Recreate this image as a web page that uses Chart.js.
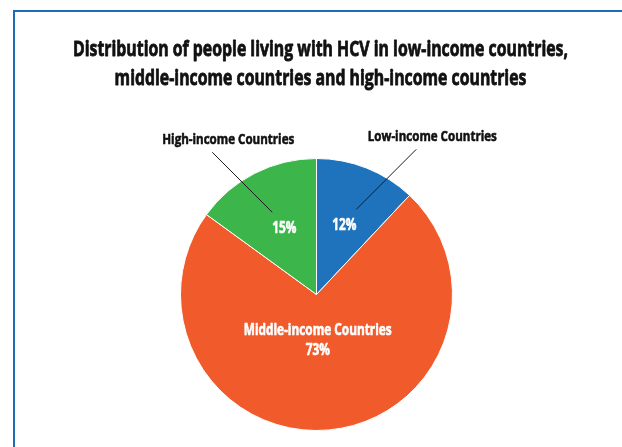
<!DOCTYPE html>
<html>
<head>
<meta charset="utf-8">
<script src="https://cdn.jsdelivr.net/npm/chart.js@4/dist/chart.umd.min.js"></script>
<style>
  html, body { margin: 0; padding: 0; background: #ffffff; }
  #wrap { position: relative; width: 622px; height: 447px; overflow: hidden; }
  #frame {
    position: absolute; left: 13px; top: 10px; width: 700px; height: 600px;
    border-left: 2px solid #1c6db6; border-top: 2px solid #1c6db6; box-sizing: border-box;
  }
  #chart { position: absolute; left: 0; top: 0; }
</style>
</head>
<body>
<div id="wrap">
  <div id="frame"></div>
  <canvas id="chart" width="622" height="447"></canvas>
</div>
<script>
// Chart content
const titleLines = [
  'Distribution of people living with HCV in low-income countries,',
  'middle-income countries and high-income countries'
];
const categories = ['Low-income Countries', 'Middle-income Countries', 'High-income Countries'];
const shares = [12, 73, 15];
const sliceColors = ['#1f73bc', '#f15b2c', '#3cb54b'];

const FONT_FAMILY = "'Open Sans', 'DejaVu Sans Condensed', sans-serif";

// Draws centred text squeezed horizontally by sx, with a thin outline of the
// same colour to give the heavy condensed look.
function drawCondensed(ctx, text, x, baseline, font, color, sx, weight) {
  ctx.save();
  ctx.font = font;
  ctx.fillStyle = color;
  ctx.strokeStyle = color;
  ctx.lineWidth = weight;
  ctx.lineJoin = 'round';
  ctx.textAlign = 'center';
  ctx.textBaseline = 'alphabetic';
  ctx.translate(x, baseline);
  ctx.scale(sx, 1);
  ctx.fillText(text, 0, 0);
  ctx.strokeText(text, 0, 0);
  ctx.restore();
}

function squeezeFor(ctx, text, font, targetWidth) {
  ctx.save();
  ctx.font = font;
  const w = ctx.measureText(text).width;
  ctx.restore();
  return targetWidth / w;
}

// Two-line heading above the pie
const headingPlugin = {
  id: 'heading',
  afterDraw(chart) {
    const ctx = chart.ctx;
    const font = 'bold 21px ' + FONT_FAMILY;
    const sx = squeezeFor(ctx, titleLines[0], font, 495);
    const baselines = [56, 85];
    titleLines.forEach((line, i) => drawCondensed(ctx, line, 320.5, baselines[i], font, '#111111', sx, 0.8));
  }
};

// Slice labels: small slices get a percentage inside and a named callout outside,
// the large slice carries its name and percentage inside.
const sliceLabelPlugin = {
  id: 'sliceLabels',
  afterDatasetsDraw(chart) {
    const ctx = chart.ctx;
    const meta = chart.getDatasetMeta(0);
    const innerFont = 'bold 16px ' + FONT_FAMILY;
    const outerFont = 'bold 15px ' + FONT_FAMILY;
    const innerSx = squeezeFor(ctx, categories[1], innerFont, 148);
    const outerSx = squeezeFor(ctx, 'High-income Countries', outerFont, 132);

    meta.data.forEach((arc, i) => {
      const { x, y, startAngle, endAngle, outerRadius } = arc.getProps(['x', 'y', 'startAngle', 'endAngle', 'outerRadius'], true);
      const mid = (startAngle + endAngle) / 2;
      const pct = shares[i] + '%';

      if (shares[i] >= 50) {
        const r = outerRadius * 0.33;
        const px = x + Math.cos(mid) * r - 3;
        const py = y + Math.sin(mid) * r;
        drawCondensed(ctx, categories[i], px, py - 4, innerFont, '#ffffff', innerSx, 0.6);
        drawCondensed(ctx, pct, px, py + 16, innerFont, '#ffffff', innerSx, 0.6);
        return;
      }

      const r = outerRadius * 0.555;
      const dir = Math.cos(mid) >= 0 ? 1 : -1;
      const px = x + Math.cos(mid) * r + (dir < 0 ? 2 : 0);
      const py = y + Math.sin(mid) * r;
      drawCondensed(ctx, pct, px, py + 6, innerFont, '#ffffff', innerSx, 0.6);

      // leader line running up and out to the category name
      const sX = px + dir * 12, sY = py - 15;
      const eX = sX + dir * 60, eY = sY - 60;
      ctx.save();
      ctx.strokeStyle = '#1a1a1a';
      ctx.lineWidth = 1;
      ctx.beginPath();
      ctx.moveTo(sX, sY);
      ctx.lineTo(eX, eY);
      ctx.stroke();
      ctx.restore();
      drawCondensed(ctx, categories[i], eX + 16, eY - 8, outerFont, '#111111', outerSx, 0.6);
    });
  }
};

new Chart(document.getElementById('chart'), {
  type: 'pie',
  data: {
    labels: categories,
    datasets: [{
      data: shares,
      backgroundColor: sliceColors,
      borderColor: '#ffffff',
      borderWidth: 1
    }]
  },
  options: {
    responsive: false,
    animation: false,
    devicePixelRatio: 1,
    layout: { padding: { left: 180, right: 169, top: 158, bottom: 16 } },
    plugins: {
      legend: { display: false },
      tooltip: { enabled: false },
      title: { display: false }
    }
  },
  plugins: [headingPlugin, sliceLabelPlugin]
});
</script>
</body>
</html>
